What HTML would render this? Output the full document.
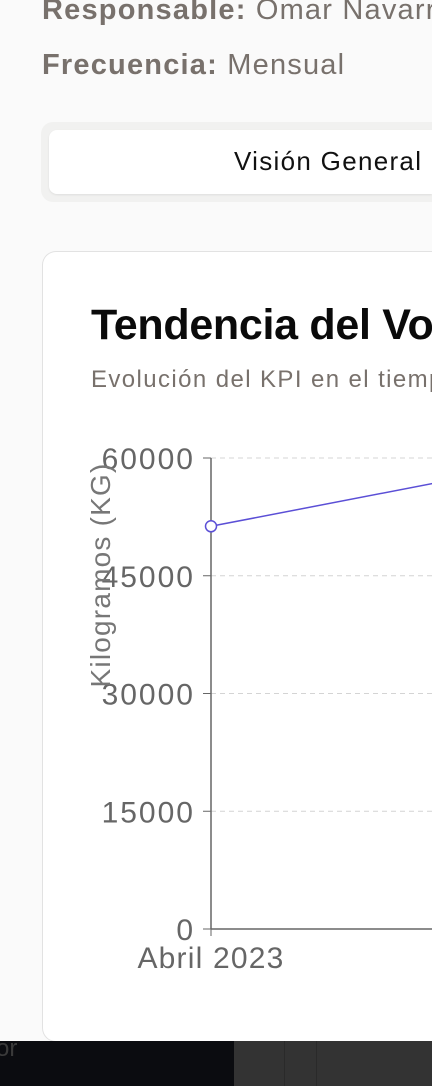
<!DOCTYPE html>
<html style="overflow:hidden"><head><meta charset="utf-8"><style>
html,body{width:432px;height:1086px;overflow:hidden}
body{margin:0;background:#fafafa;font-family:"Liberation Sans",sans-serif;position:relative}
.meta{position:absolute;left:42px;width:390px;overflow:hidden;font-size:29px;letter-spacing:1.2px;color:#78716c;white-space:nowrap}
.meta b{font-weight:600}
</style></head><body>
<div class="meta" style="top:-6px"><b>Responsable:</b> Omar Navarro</div>
<div class="meta" style="top:49px"><b>Frecuencia:</b> Mensual</div>
<div style="position:absolute;left:41px;top:122px;width:391px;height:80px;background:#f1f1f0;border-radius:12px 0 0 12px"></div>
<div style="position:absolute;left:49px;top:130px;width:383px;height:64px;background:#fff;border-radius:8px 0 0 8px;box-shadow:0 1px 2px rgba(0,0,0,.08);overflow:hidden">
<span style="position:absolute;left:185px;top:16px;font-size:26px;letter-spacing:1.3px;color:#111;white-space:nowrap">Visión General</span></div>
<div style="position:absolute;left:42px;top:251px;width:390px;height:789px;background:#fff;border:1.5px solid #e2e2e2;border-right:none;border-radius:14px 0 0 14px;overflow:hidden"></div>
<div style="position:absolute;left:91px;top:301px;width:341px;overflow:hidden;font-size:43px;font-weight:bold;color:#0a0a0a;white-space:nowrap;letter-spacing:-0.3px">Tendencia del Volumen</div>
<div style="position:absolute;left:91px;top:366px;width:341px;overflow:hidden;font-size:24px;letter-spacing:1.4px;color:#78716c;white-space:nowrap">Evolución del KPI en el tiempo</div>
<svg id="chart" width="432" height="1086" style="position:absolute;left:0;top:0"></svg>
<div style="position:absolute;left:0;top:1041px;width:432px;height:45px;background:#333;overflow:hidden">
<div style="position:absolute;left:0;top:0;width:234px;height:45px;background:#0b0c10"><span style="position:absolute;left:-4px;top:-6px;font-size:24px;color:#3a3a3a">or</span></div>
<div style="position:absolute;left:284px;top:0;width:1px;height:45px;background:#2a2a2a"></div>
<div style="position:absolute;left:316px;top:0;width:1px;height:45px;background:#2a2a2a"></div>
</div>
<script>
const categories=["Abril 2023","Mayo 2023"];
const values=[51300,58900];
const ticks=[0,15000,30000,45000,60000];
const NS="http://www.w3.org/2000/svg";
const svg=document.getElementById('chart');
const x0=211,step=309,y0=929,yTop=458,yMax=60000;
const xs=i=>x0+i*step, ys=v=>y0-(v/yMax)*(y0-yTop);
function mk(t,a){const e=document.createElementNS(NS,t);for(const k in a)e.setAttribute(k,a[k]);svg.appendChild(e);return e;}
ticks.forEach(t=>{
 if(t>0){const g=mk('line',{x1:x0,x2:432,y1:ys(t),y2:ys(t),stroke:'#d4d4d4','stroke-dasharray':'5 4'});
 
 }
 const tk=mk('line',{x1:x0-8,x2:x0,y1:ys(t),y2:ys(t),stroke:'#666'});
 
 
 const l=mk('text',{x:x0-16,y:ys(t)+11,'text-anchor':'end','font-size':30,'letter-spacing':2,fill:'#666','font-family':'Liberation Sans'});
 l.textContent=t;
 
 
});
const ya=mk('line',{x1:x0,x2:x0,y1:yTop,y2:y0,stroke:'#666','stroke-width':1.5});


const xa=mk('line',{x1:x0,x2:432,y1:y0,y2:y0,stroke:'#666','stroke-width':1.5});


categories.forEach((c,i)=>{
 const tk=mk('line',{x1:xs(i),x2:xs(i),y1:y0,y2:y0+7,stroke:'#666'});
 
 
 const l=mk('text',{x:xs(i),y:y0+39,'text-anchor':'middle','font-size':30,'letter-spacing':1.2,fill:'#666','font-family':'Liberation Sans'});
 l.textContent=c;
 
 
});
const yt=mk('text',{x:0,y:0,transform:'translate(110,575) rotate(-90)','text-anchor':'middle','font-size':28,'letter-spacing':1.2,fill:'#777','font-family':'Liberation Sans'});
yt.textContent='Kilogramos (KG)';


const line=mk('polyline',{points:values.map((v,i)=>xs(i)+','+ys(v)).join(' '),fill:'none',stroke:'#5b4fd6','stroke-width':1.5});


values.forEach((v,i)=>{
 const p=mk('circle',{cx:xs(i),cy:ys(v),r:5.5,fill:'#fff',stroke:'#5b4fd6','stroke-width':1.5});
 
 
});
</script>
</body></html>
